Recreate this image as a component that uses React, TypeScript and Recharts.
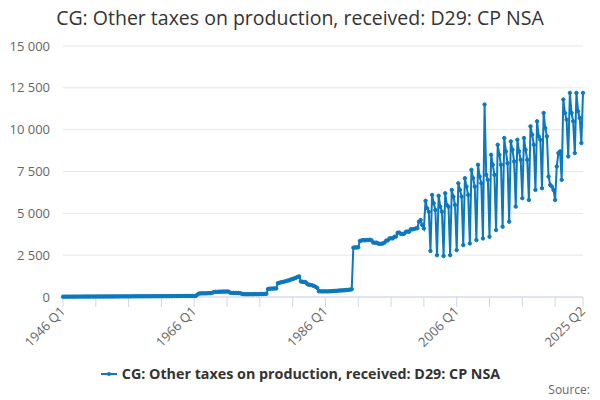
import { LineChart, Line, XAxis, YAxis, CartesianGrid } from "recharts";

const FONT = '"Open Sans", "DejaVu Sans", sans-serif';
const BLUE = "#0b78bf";
const TITLE = "CG: Other taxes on production, received: D29: CP NSA";

// quarterly values, £m
const v1946to1955 = [
  18, 19, 20, 20, 21, 21, 22, 22, 23, 23, 24, 24, 25, 25, 26, 26, 27, 27, 28, 28,
  29, 29, 30, 30, 31, 31, 32, 32, 33, 33, 34, 34, 35, 35, 36, 36, 37, 37, 38, 38,
];
const v1956to1965 = [
  39, 39, 40, 40, 41, 41, 42, 42, 43, 43, 44, 44, 45, 45, 46, 46, 47, 47, 48, 48,
  49, 50, 50, 51, 52, 52, 53, 54, 55, 55, 56, 57, 58, 58, 59, 60, 61, 62, 62, 63,
];
const v1966to1975 = [
  64, 65, 150, 210, 215, 220, 218, 222, 225, 230, 228, 250, 300, 310, 305, 315,
  320, 318, 325, 322, 330, 320, 250, 240, 245, 240, 238, 236, 230, 190, 175, 170,
  165, 168, 170, 166, 170, 172, 175, 170,
];
const v1976to1985 = [
  178, 180, 182, 185, 190, 480, 495, 500, 505, 510, 515, 830, 850, 880, 900, 920,
  950, 980, 1000, 1050, 1080, 1110, 1150, 1200, 1230, 930, 910, 900, 880, 760, 740, 720,
  700, 650, 610, 540, 345, 340, 335, 338,
];
const v1986to1995 = [
  340, 335, 338, 345, 350, 360, 365, 370, 380, 390, 395, 400, 410, 420, 430, 440,
  460, 2950, 2960, 2960, 2970, 3350, 3380, 3400, 3390, 3410, 3400, 3420, 3400, 3260, 3240, 3250,
  3200, 3170, 3180, 3200, 3250, 3370, 3380, 3500,
];
const v1996to2005 = [
  3510, 3500, 3600, 3610, 3840, 3850, 3770, 3760, 3780, 3900, 3910, 3900, 4050, 4040, 4060, 4100,
  4110, 4500, 4600, 4300, 4100, 5750, 5300, 5100, 2750, 6100, 5600, 5200, 2500, 6050, 5400, 5100,
  2450, 6200, 5500, 5400, 2500, 6400, 6000, 5500,
];
const v2006to2015 = [
  2800, 6800, 6400, 6000, 3100, 7100, 6600, 6100, 3200, 7600, 7100, 6600, 3400, 7900, 7200, 6800,
  3500, 11500, 7300, 7000, 3600, 8500, 7900, 7300, 4000, 9100, 8500, 7900, 4200, 9500, 8700, 8000,
  4500, 9300, 8800, 8100, 5400, 9400, 8700, 8200,
];
const v2016to2025 = [
  5900, 9500, 8800, 8200, 5800, 10200, 9700, 9100, 6400, 10500, 9600, 9400, 6500, 11000, 10100, 9600,
  7200, 6700, 6600, 6400, 5800, 7800, 8600, 8700, 7000, 11800, 11000, 10600, 8400, 12200, 11000, 10500,
  8600, 12200, 11100, 10700, 9200, 12200,
];

const values = [
  ...v1946to1955, ...v1956to1965, ...v1966to1975, ...v1976to1985,
  ...v1986to1995, ...v1996to2005, ...v2006to2015, ...v2016to2025,
];

const quarters = values.map((_, i) => `${1946 + Math.floor(i / 4)} Q${(i % 4) + 1}`);
const tickLabels = ["1946 Q1", "1966 Q1", "1986 Q1", "2006 Q1", "2025 Q2"];
const xTicks = [0, 20, 40, 60, 80, 100, 120, 140, 160, 180, 200, 220, 240, 260, 280, 300, 317];
const yTicks = [0, 2500, 5000, 7500, 10000, 12500, 15000];

const data = values.map((v, i) => ({ i, quarter: quarters[i], v }));

const fmt = (n: number) => String(n).replace(/\B(?=(\d{3})+(?!\d))/g, " ");

const QuarterTick = (props: any) => {
  const { x, payload } = props;
  const label = quarters[payload.value];
  if (!tickLabels.includes(label)) return null;
  const px = x + 3;
  const py = 312;
  return (
    <text
      x={px}
      y={py}
      transform={`rotate(-45, ${px}, ${py})`}
      textAnchor="end"
      fill="#666"
      fontSize={13}
      fontFamily={FONT}
    >
      {label}
    </text>
  );
};

export default function App() {
  return (
    <div
      style={{
        position: "absolute",
        left: 0,
        top: 0,
        width: 600,
        height: 400,
        background: "#fff",
        fontFamily: FONT,
      }}
    >
      <div
        style={{
          position: "absolute",
          top: 4,
          left: 0,
          width: 600,
          textAlign: "center",
          fontSize: 19.5,
          color: "#333",
        }}
      >
        {TITLE}
      </div>
      <LineChart
        width={600}
        height={400}
        data={data}
        margin={{ top: 46, right: 17, bottom: 43, left: 0 }}
      >
        <CartesianGrid vertical={false} stroke="#e6e6e6" />
        <XAxis
          dataKey="i"
          type="number"
          domain={[0, 317]}
          ticks={xTicks}
          interval={0}
          height={60}
          tickSize={10}
          tick={<QuarterTick />}
          tickLine={{ stroke: "#ccd6eb" }}
          axisLine={{ stroke: "#ccd6eb" }}
        />
        <YAxis
          domain={[0, 15000]}
          ticks={yTicks}
          width={63}
          axisLine={false}
          tickLine={false}
          tickMargin={7}
          tick={{ fill: "#666", fontSize: 13, fontFamily: FONT }}
          tickFormatter={fmt}
        />
        <Line
          type="linear"
          dataKey="v"
          stroke={BLUE}
          strokeWidth={2}
          dot={{ r: 1.7, fill: BLUE, stroke: BLUE, strokeWidth: 1 }}
          isAnimationActive={false}
        />
      </LineChart>
      <div
        style={{
          position: "absolute",
          top: 364,
          left: 0,
          width: 600,
          display: "flex",
          justifyContent: "center",
          alignItems: "center",
          fontSize: 14.3,
          fontWeight: "bold",
          color: "#333",
        }}
      >
        <svg width={18} height={12} style={{ marginRight: 4 }}>
          <line x1={1} y1={6} x2={17} y2={6} stroke={BLUE} strokeWidth={2} />
          <circle cx={9} cy={6} r={2} fill={BLUE} />
        </svg>
        <span>{TITLE}</span>
      </div>
      <div
        style={{
          position: "absolute",
          top: 381,
          right: 10,
          fontSize: 12,
          color: "#666",
        }}
      >
        Source:
      </div>
    </div>
  );
}
